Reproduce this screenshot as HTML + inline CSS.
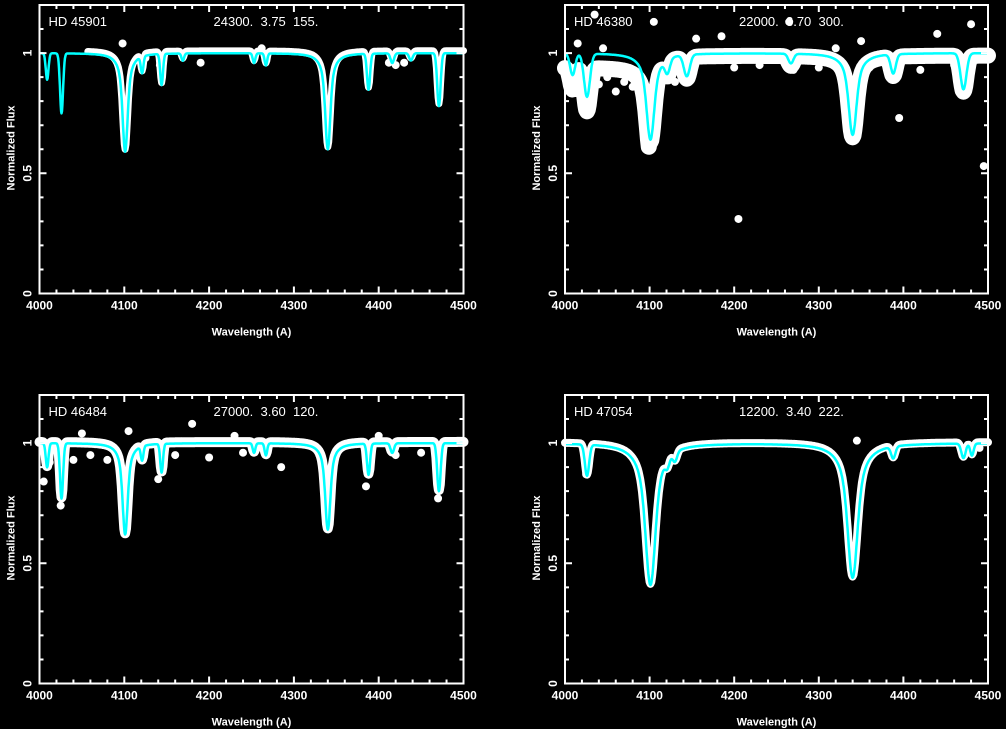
<!DOCTYPE html>
<html><head><meta charset="utf-8"><style>
html,body{margin:0;padding:0;background:#000;}
svg{display:block;}
text{font-family:"Liberation Sans",sans-serif;fill:#fff;}
</style></head><body>
<svg id="fig" width="1006" height="729" viewBox="0 0 1006 729"></svg>
<script>
// ---- data ----
const starNames = ["HD 45901","HD 46380","HD 46484","HD 47054"];
const starParams = ["24300.  3.75  155.","22000.  3.70  300.","27000.  3.60  120.","12200.  3.40  222."];
const xTickLabels = ["4000","4100","4200","4300","4400","4500"];
const yTickLabels = ["0","0.5","1"];
// line lists: [center(A), depth, gaussian sigma(A), lorentz frac]
const lines1 = [[4009,0.11,1.6,0],[4026,0.25,1.8,0],[4101,0.41,2.6,0.7],[4121,0.07,1.5,0],[4144,0.13,1.6,0],[4169,0.03,1.5,0],[4253,0.04,1.5,0],[4267,0.05,1.5,0],[4340,0.40,2.6,0.7],[4388,0.15,1.8,0],[4416,0.04,2,0],[4438,0.03,2,0],[4471,0.22,2,0]];
const lines2 = [[4009,0.09,3,0],[4026,0.18,3.5,0],[4101,0.36,4,0.7],[4121,0.06,3,0],[4144,0.09,3.5,0],[4267,0.04,3,0],[4340,0.34,4,0.7],[4388,0.08,3,0],[4471,0.15,3.5,0]];
const lines3 = [[4009,0.10,1.6,0],[4026,0.23,1.8,0],[4101,0.38,2.6,0.7],[4121,0.06,1.5,0],[4144,0.12,1.6,0],[4253,0.04,1.5,0],[4267,0.05,1.5,0],[4340,0.36,2.6,0.7],[4388,0.13,1.8,0],[4416,0.04,2,0],[4471,0.20,2,0]];
const lines4 = [[4026,0.13,2.5,0],[4101,0.59,5,0.75],[4121,0.04,2.5,0],[4130,0.04,2.5,0],[4340,0.56,5,0.75],[4388,0.05,2.5,0],[4471,0.06,2.5,0],[4481,0.05,2,0]];
const obsStart = [4057,4000,4000,4000];
const obsWidth = [7,16,10,8];
const obsShift = [0.01,-0.01,0.005,0.005];
// outlier observed points [wavelength, flux]
const out1 = [[4098,1.04],[4142,0.95],[4190,0.96],[4420,0.95],[4430,0.96],[4125,0.98],[4412,0.96],[4262,1.02]];
const out2 = [[4205,0.31],[4395,0.73],[4495,0.53],[4035,1.16],[4105,1.13],[4155,1.06],[4265,1.13],[4350,1.05],[4480,1.12],[4020,0.86],[4030,0.84],[4060,0.84],[4090,0.82],[4110,0.87],[4130,0.88],[4270,0.93],[4420,0.93],[4185,1.07],[4440,1.08],[4010,0.88],[4040,0.87],[4050,0.90],[4070,0.88],[4080,0.86],[4120,0.90],[4015,1.04],[4045,1.02],[4200,0.94],[4230,0.95],[4300,0.94],[4360,0.94],[4460,0.95],[4320,1.02],[4170,1.0]];
const out3 = [[4005,0.84],[4025,0.74],[4105,1.05],[4180,1.08],[4200,0.94],[4285,0.90],[4385,0.82],[4470,0.77],[4140,0.85],[4060,0.95],[4012,0.92],[4040,0.93],[4080,0.93],[4160,0.95],[4240,0.96],[4330,0.95],[4420,0.95],[4450,0.96],[4050,1.04],[4230,1.03],[4400,1.03]];
const out4 = [[4025,0.87],[4345,1.01],[4490,0.98]];
const allLines=[lines1,lines2,lines3,lines4];
const allOut=[out1,out2,out3,out4];
const panels=[[39.5,5,463.5,293.5],[565,5,988,293.5],[39.5,395,463.5,683.5],[565,395,988,683.5]];

const NS="http://www.w3.org/2000/svg";
const svg=document.getElementById('fig');
function mk(tag,attrs,parent){const e=document.createElementNS(NS,tag);for(const k in attrs)e.setAttribute(k,attrs[k]);(parent||svg).appendChild(e);return e;}
function model(lines,w){let f=1;for(const l of lines){const dx=w-l[0];const g=Math.exp(-dx*dx/(2*l[2]*l[2]));const lo=1/(1+Math.pow(dx/(l[2]*2.2),2));f*=1-l[1]*((1-l[3])*g+l[3]*(0.3*g+0.7*lo));}return f;}

panels.forEach((p,i)=>{
  const [x0,y0,x1,y1]=p;
  const g=mk('g',{});
  
  
  const X=w=>x0+(w-4000)/500*(x1-x0);
  const Y=f=>y1-f/1.2*(y1-y0);
  let pts=[];
  for(let w=obsStart[i];w<=4500;w+=1)pts.push(X(w).toFixed(1)+','+Y(model(allLines[i],w)+obsShift[i]-(i==1&&w<4100?0.05:0)).toFixed(1));
  const ob=mk('polyline',{points:pts.join(' '),fill:'none',stroke:'#fff','stroke-width':obsWidth[i],'stroke-linejoin':'round','stroke-linecap':'round'},g);
  
  
  allOut[i].forEach(o=>{const c=mk('circle',{cx:X(o[0]),cy:Y(o[1]),r:4,fill:'#fff'},g);
    
    });
  pts=[];
  for(let w=4000;w<=4500;w+=0.5)pts.push(X(w).toFixed(1)+','+Y(model(allLines[i],w)).toFixed(1));
  const md=mk('polyline',{points:pts.join(' '),fill:'none',stroke:'#00ffff','stroke-width':2.5,'stroke-linejoin':'round'},g);
  
  
  const fr=mk('rect',{x:x0,y:y0,width:x1-x0,height:y1-y0,fill:'none',stroke:'#fff','stroke-width':2},g);
  
  
  let d='';
  for(let w=4000;w<=4500;w+=20){const L=(w%100==0)?7:4;const x=X(w);d+=`M${x},${y1}v${-L}M${x},${y0}v${L}`;}
  for(let k=0;k<=12;k++){const f=k/10;const L=(k%5==0)?7:4;const y=Y(f);d+=`M${x0},${y}h${L}M${x1},${y}h${-L}`;}
  const tk=mk('path',{d:d,stroke:'#fff','stroke-width':2,fill:'none'},g);
  
  
  xTickLabels.forEach((t,j)=>{const e=mk('text',{x:X(+t),y:y1+16,'font-size':12,'font-weight':'bold','text-anchor':'middle'},g);e.textContent=t;
    
    });
  yTickLabels.forEach(t=>{const y=Y(+t);const e=mk('text',{x:0,y:0,'font-size':12,'font-weight':'bold','text-anchor':'middle',transform:`translate(${x0-8},${y}) rotate(-90)`},g);e.textContent=t;
    
    });
  const xl=mk('text',{x:(x0+x1)/2,y:y1+42,'font-size':11,'font-weight':'bold','text-anchor':'middle'},g);xl.textContent='Wavelength (A)';
  
  
  const yl=mk('text',{x:0,y:0,'font-size':11,'font-weight':'bold','text-anchor':'middle',transform:`translate(${x0-25},${y0+143}) rotate(-90)`},g);yl.textContent='Normalized Flux';
  
  
  const nm=mk('text',{x:x0+9,y:y0+21,'font-size':13},g);nm.textContent=starNames[i];
  
  
  const pm=mk('text',{x:x0+174,y:y0+21,'font-size':13,'style':'white-space:pre'},g);pm.textContent=starParams[i];
  
  
});
</script>
</body></html>
